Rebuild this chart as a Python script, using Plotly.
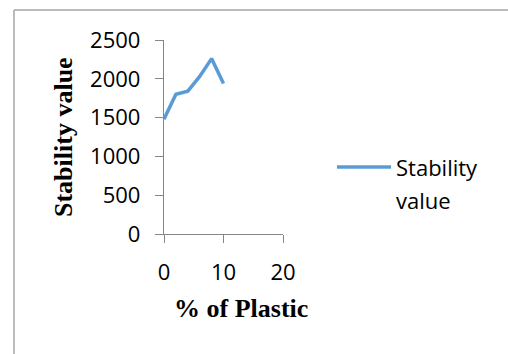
import plotly.graph_objects as go

# Marshall stability vs plastic content
plastic_pct = [0, 2, 4, 6, 8, 10]
stability = [1480, 1800, 1840, 2030, 2260, 1940]
series_name = "Stability value"
x_title = "% of Plastic"
y_title = "Stability value"

W, H = 508, 354
L, R, T, B = 164, 225, 40, 120
pw, ph = W - L - R, H - T - B


def px(x):
    return (x - L) / pw


def py(y):
    return (H - B - y) / ph


line_color = "#5B9BD5"
axis_color = "#868686"
label_font = dict(family="Open Sans", size=22, color="black")

fig = go.Figure()
fig.add_trace(go.Scatter(x=plastic_pct, y=stability, mode="lines",
                         name=series_name, showlegend=False,
                         line=dict(color=line_color, width=3.5)))

axis_common = dict(showgrid=False, zeroline=False, showline=True,
                   linecolor=axis_color, linewidth=1.3, ticks="outside",
                   ticklen=8, tickcolor=axis_color, tickwidth=1.3,
                   tickfont=label_font)

fig.update_xaxes(range=[0, 20], dtick=10, ticklabelstandoff=10, **axis_common)
fig.update_yaxes(range=[0, 2500], dtick=500, ticklabelstandoff=10, **axis_common)

# chart frame
frame = dict(color="#A6A6A6", width=1.5)
fig.add_shape(type="line", xref="paper", yref="paper",
              x0=px(14), x1=px(W + 5), y0=py(10), y1=py(10), line=frame)
fig.add_shape(type="line", xref="paper", yref="paper",
              x0=px(14), x1=px(14), y0=py(10), y1=py(H + 5), line=frame)

# legend entry
fig.add_shape(type="line", xref="paper", yref="paper",
              x0=px(337), x1=px(391), y0=py(167), y1=py(167),
              line=dict(color=line_color, width=3.5))
for i, word in enumerate(series_name.split(" ")):
    fig.add_annotation(text=word, xref="paper", yref="paper",
                       x=px(394), y=py(167 + 33 * i), xanchor="left",
                       yanchor="middle", showarrow=False, font=label_font)

# axis titles
title_font = dict(family="Liberation Serif", size=26, color="black")
fig.add_annotation(text="<b>%s</b>" % y_title, xref="paper", yref="paper",
                   x=px(63), y=py(137), textangle=-90, showarrow=False,
                   xanchor="center", yanchor="middle", font=title_font)
fig.add_annotation(text="<b>%s</b>" % x_title, xref="paper", yref="paper",
                   x=px(241), y=py(308), showarrow=False,
                   xanchor="center", yanchor="middle", font=title_font)

fig.update_layout(width=W, height=H, margin=dict(l=L, r=R, t=T, b=B),
                  paper_bgcolor="white", plot_bgcolor="white")

fig.write_html("out.html")
